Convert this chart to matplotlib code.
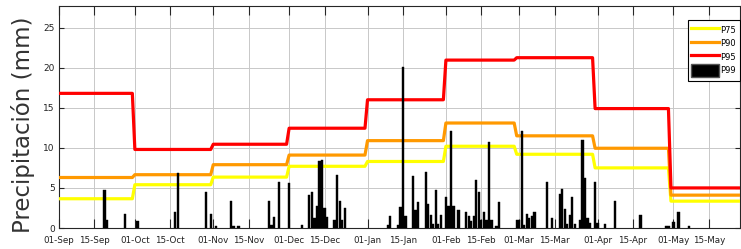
import numpy as np
import pandas as pd
import matplotlib
matplotlib.use("Agg")
import matplotlib.pyplot as plt
from matplotlib.patches import Patch
from matplotlib.lines import Line2D

# ---------------- data ----------------
season_start = "2015-09-01"
tick_dates = ["2015-09-01", "2015-09-15", "2015-10-01", "2015-10-15", "2015-11-01",
              "2015-11-15", "2015-12-01", "2015-12-15", "2016-01-01", "2016-01-15",
              "2016-02-01", "2016-02-15", "2016-03-01", "2016-03-15", "2016-04-01",
              "2016-04-15", "2016-05-01", "2016-05-15"]
tick_labels = ["01-Sep", "15-Sep", "01-Oct", "15-Oct", "01-Nov", "15-Nov", "01-Dec",
               "15-Dec", "01-Jan", "15-Jan", "01-Feb", "15-Feb", "01-Mar", "15-Mar",
               "01-Apr", "15-Apr", "01-May", "15-May"]

# monthly percentile thresholds (Sep..May), climatological (365-day) calendar
month_days = [30, 31, 30, 31, 31, 28, 31, 30, 31]
p75 = [3.65, 5.4, 6.35, 7.7, 8.3, 10.2, 9.2, 7.5, 3.35]
p90 = [6.3, 6.65, 7.9, 9.1, 10.9, 13.1, 11.5, 9.95, 4.1]
p95 = [16.8, 9.8, 10.45, 12.45, 16.0, 20.95, 21.25, 14.9, 5.0]

# daily precipitation (day offset from 01-Sep, mm)
rain_day = [18, 19, 26, 31, 46, 47, 58, 60, 62, 68, 69, 71, 83, 84, 85, 87, 91, 96,
            99, 100, 101, 102, 103, 104, 105, 106, 109, 110, 111, 112, 113,
            130, 131, 134, 135, 136, 137, 140, 141, 142, 145, 146, 147, 148, 149, 150,
            151, 153, 154, 155, 156, 158, 161, 162, 163, 164, 165, 166, 167, 168, 169,
            170, 171, 173, 174, 181, 182, 183, 184, 185, 186, 187, 188, 193, 195, 198,
            199, 200, 201, 202, 203, 204, 206, 207, 208, 209, 210, 212, 213, 216, 220,
            230, 240, 241, 243, 245, 249]
rain_mm = [4.7, 1.05, 1.7, 0.85, 2.05, 6.85, 4.45, 1.75, 0.25, 3.35, 0.3, 0.3, 3.4, 0.35,
           1.4, 5.8, 5.6, 0.4, 4.1, 4.45, 1.2, 2.8, 8.3, 8.5, 2.55, 1.4, 1.05, 6.6, 3.35,
           1.0, 2.55,
           0.4, 1.5, 0.4, 2.6, 20.1, 1.55, 6.5, 2.2, 3.2, 6.95, 3.0, 1.6, 0.5, 4.7, 0.5,
           1.6, 3.9, 2.8, 12.1, 2.8, 2.2, 2.05, 1.55, 0.85, 1.5, 6.05, 4.5, 1.05, 2.05,
           1.0, 10.7, 1.0, 0.3, 3.2, 1.05, 1.0, 12.05, 0.4, 1.7, 1.2, 1.5, 2.05, 5.7,
           1.25, 4.3, 4.9, 2.4, 0.5, 1.6, 3.9, 0.5, 0.95, 11.0, 6.2, 1.3, 0.6, 5.8, 0.6,
           0.45, 3.35, 1.62, 0.22, 0.22, 0.7, 2.05, 0.2]

# ---------------- figure ----------------
W, H = 741, 249
fig = plt.figure(figsize=(W / 100, H / 100), dpi=100)
ax = fig.add_axes([59 / W, (H - 228) / H, 681 / W, 222 / H])

start = pd.Timestamp(season_start)
tick_pos = [(pd.Timestamp(d) - start).days for d in tick_dates]

# percentile step lines
days_clim = np.arange(sum(month_days))
colors = {"P75": "#FFFF00", "P90": "#FF9900", "P95": "#FF0000"}
for name, vals in (("P75", p75), ("P90", p90), ("P95", p95)):
    ax.plot(days_clim, np.repeat(vals, month_days), color=colors[name], lw=2.3,
            solid_joinstyle="round", zorder=3)

# daily bars
ax.bar(rain_day, rain_mm, width=0.9, color="black", edgecolor="black", lw=0.3, zorder=4)

ax.set_xlim(0, 269.3)
ax.set_ylim(0, 27.7)
ax.set_xticks(tick_pos)
tick_font = ["Liberation Sans Narrow", "DejaVu Sans Condensed", "DejaVu Sans"]
ax.set_xticklabels(tick_labels, fontsize=6.3, family=tick_font, color="#222222")
ax.set_yticks([0, 5, 10, 15, 20, 25])
ax.set_yticklabels(["0", "5", "10", "15", "20", "25"], fontsize=6.5, family=tick_font,
                   color="#222222")
ax.tick_params(axis="x", direction="in", length=6.5, width=0.8, top=True, pad=6,
               colors="#262626")
ax.tick_params(axis="y", direction="in", length=3.5, width=0.8, right=True, pad=3,
               colors="#262626")
for lbl in ax.get_xticklabels() + ax.get_yticklabels():
    lbl.set_color("#222222")
ax.grid(True, color="#c8c8c8", lw=0.7, zorder=0)
ax.set_axisbelow(True)
for s in ax.spines.values():
    s.set_color("#262626")
    s.set_linewidth(0.8)

# legend
handles = [Line2D([], [], color=colors["P75"], lw=2.3),
           Line2D([], [], color=colors["P90"], lw=2.3),
           Line2D([], [], color=colors["P95"], lw=2.3),
           Patch(facecolor="black", edgecolor="#555555")]
leg = ax.legend(handles, ["P75", "P90", "P95", "P99"], loc="upper right",
                bbox_to_anchor=(1.0, 1 - 14 / 222), borderaxespad=0,
                prop={"family": tick_font, "size": 6}, handlelength=3.3,
                handleheight=1.9, handletextpad=0.2, labelspacing=0.15,
                borderpad=0.45, fancybox=False, framealpha=1, edgecolor="black")
leg.get_frame().set_linewidth(0.8)

fig.text(23 / W, 0.498, "Precipitación (mm)", rotation=90, ha="center", va="center",
         fontsize=16.5, color="#333333")

fig.savefig("out.png", dpi=100)
